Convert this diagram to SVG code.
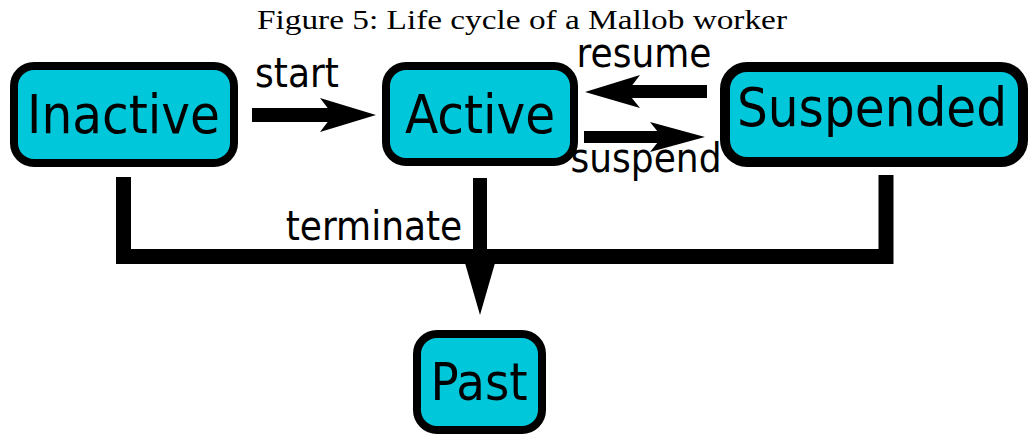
<svg xmlns="http://www.w3.org/2000/svg" width="1029" height="434" viewBox="0 0 1029 434">
<style>
.node rect{fill:#00c8da;stroke:#000;stroke-width:8}
.lbl{font-family:'DejaVu Sans Condensed','DejaVu Sans',sans-serif;font-stretch:condensed;fill:#000;text-anchor:middle}
.big{font-size:54px}
.small{font-size:40px}
.title{font-family:'Liberation Serif',serif;font-size:27px;fill:#000;text-anchor:middle}
.conn path,.conn polygon,.conn rect{fill:#000}
</style>
<rect width="1029" height="434" fill="#fff"/>
<text class="title" x="522" y="29" textLength="530" lengthAdjust="spacingAndGlyphs">Figure 5: Life cycle of a Mallob worker</text>
<g id="connectors" class="conn">
  <rect x="252" y="108" width="82" height="14"/>
  <polygon points="320,98 376,115 320,132 333,115"/>
  <rect x="620" y="85" width="87" height="13"/>
  <polygon points="640,75 585,92 640,108 627,92"/>
  <rect x="584" y="131" width="80" height="12"/>
  <polygon points="650,122 705,137 650,152 662,137"/>
  <path d="M123.5,177 V256.5 H886 V175" fill="none" stroke="#000" stroke-width="15" stroke-linejoin="miter" style="fill:none"/>
  <rect x="473" y="178" width="14" height="86"/>
  <polygon points="465,263 495,263 480,315"/>
  <text class="lbl small" x="297" y="87">start</text>
  <text class="lbl small" x="644" y="67">resume</text>
  <text class="lbl small" x="646" y="172">suspend</text>
  <text class="lbl small" x="374" y="240">terminate</text>
</g>
<g id="inactive" class="node">
  <rect x="14" y="66" width="220" height="97" rx="20"/>
  <text class="lbl big" x="123.5" y="133">Inactive</text>
</g>
<g id="active" class="node">
  <rect x="386" y="66" width="188" height="96" rx="20"/>
  <text class="lbl big" x="480" y="133">Active</text>
</g>
<g id="suspended" class="node">
  <rect x="725" y="67" width="298" height="95" rx="22" style="stroke-width:10"/>
  <text class="lbl big" x="872" y="126">Suspended</text>
</g>
<g id="past" class="node">
  <rect x="417" y="334" width="125" height="96" rx="20"/>
  <text class="lbl" x="479" y="400" style="font-size:52px">Past</text>
</g>
</svg>
